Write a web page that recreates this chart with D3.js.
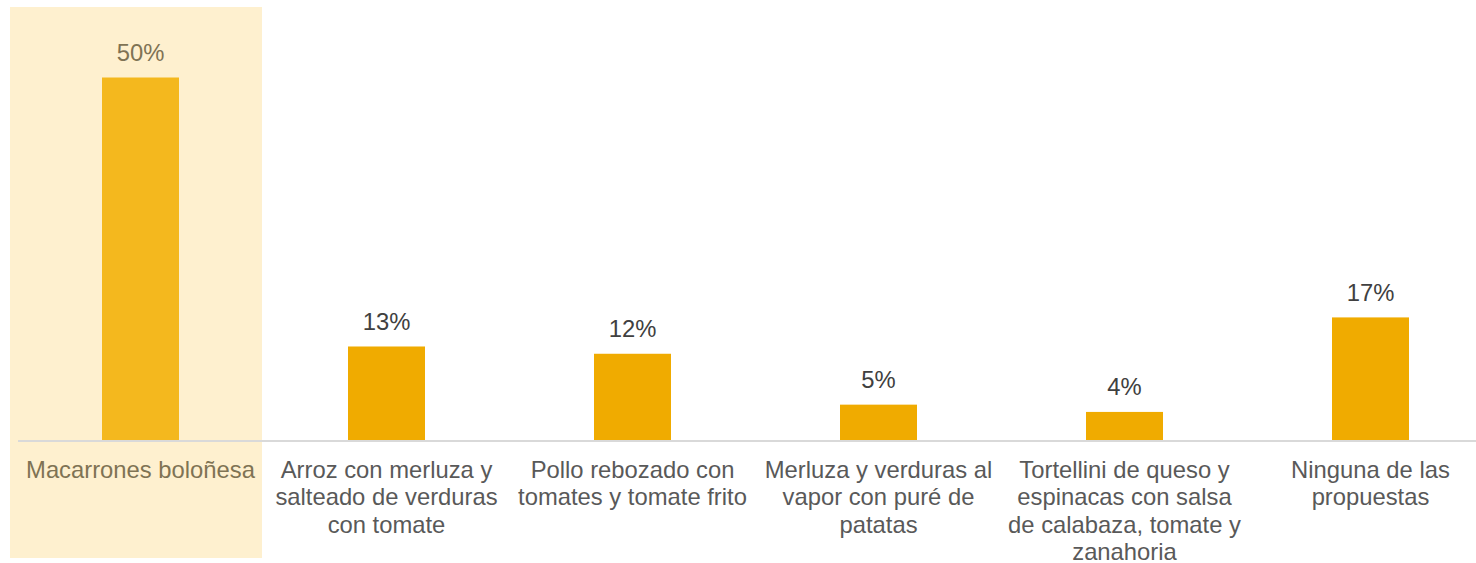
<!DOCTYPE html>
<html>
<head>
<meta charset="utf-8">
<script src="https://cdn.jsdelivr.net/npm/d3@7"></script>
<style>
  html, body { margin: 0; padding: 0; background: #ffffff; }
  svg { display: block; }
  text { font-family: "Liberation Sans", Arial, sans-serif; }
</style>
</head>
<body>
<svg id="chart" width="1476" height="563"></svg>
<script>
// Dish preferences (% of respondents)
const categories = [
  "Macarrones boloñesa",
  "Arroz con merluza y salteado de verduras con tomate",
  "Pollo rebozado con tomates y tomate frito",
  "Merluza y verduras al vapor con puré de patatas",
  "Tortellini de queso y espinacas con salsa de calabaza, tomate y zanahoria",
  "Ninguna de las propuestas"
];
const values = [50, 13, 12, 5, 4, 17];
const highlighted = ["Macarrones boloñesa"];

const width = 1476, height = 563;
const baseline = 441;
const svg = d3.select("#chart");

const x = d3.scaleBand()
  .domain(categories)
  .range([17.5, 1493.5])
  .paddingInner(0.687)
  .paddingOuter(0.3435);

const y = d3.scaleLinear()
  .domain([0, 50])
  .range([baseline, 77.5]);

const step = x.step();
const bandCenter = d => x(d) + x.bandwidth() / 2;

// Highlight panel behind the selected category
svg.append("g")
  .selectAll("rect")
  .data(highlighted)
  .join("rect")
  .attr("x", d => bandCenter(d) - step / 2 - 7.5)
  .attr("y", 7)
  .attr("width", step + 6)
  .attr("height", 551)
  .attr("fill", "#FEF0CF");

const data = categories.map((c, i) => ({ c, v: values[i], hi: highlighted.includes(c) }));

// Bars
svg.append("g")
  .selectAll("rect")
  .data(data)
  .join("rect")
  .attr("x", d => x(d.c))
  .attr("y", d => y(d.v))
  .attr("width", x.bandwidth())
  .attr("height", d => y(0) - y(d.v))
  .attr("fill", d => d.hi ? "#F4B81E" : "#F0AB00");

// Baseline axis
const axis = d3.axisBottom(x).tickSize(0).tickFormat("");
const axisG = svg.append("g")
  .attr("transform", `translate(0,${baseline})`)
  .call(axis);
axisG.select(".domain")
  .attr("d", `M18,0H${width}`)
  .attr("stroke", "#D9D9D9")
  .attr("stroke-width", 2);

// Value labels
svg.append("g")
  .selectAll("text")
  .data(data)
  .join("text")
  .attr("x", d => bandCenter(d.c))
  .attr("y", d => y(d.v) - 16.5)
  .attr("text-anchor", "middle")
  .attr("font-size", "23.8px")
  .attr("fill", d => d.hi ? "#7F7354" : "#404040")
  .text(d => d.v + "%");

// Category labels, wrapped to the band width
const maxW = 238;
const lineH = 27.3;
const labels = svg.append("g")
  .selectAll("text")
  .data(data)
  .join("text")
  .attr("text-anchor", "middle")
  .attr("font-size", "23.8px")
  .attr("fill", d => d.hi ? "#7F7354" : "#595959");

labels.each(function(d) {
  const t = d3.select(this);
  const cx = bandCenter(d.c);
  const words = d.c.split(" ");
  let line = [];
  let lineNo = 0;
  let tspan = t.append("tspan").attr("x", cx).attr("y", 478);
  for (const w of words) {
    line.push(w);
    tspan.text(line.join(" "));
    if (tspan.node().getComputedTextLength() > maxW && line.length > 1) {
      line.pop();
      tspan.text(line.join(" "));
      line = [w];
      lineNo++;
      tspan = t.append("tspan").attr("x", cx).attr("y", 478 + lineNo * lineH).text(w);
    }
  }
});
</script>
</body>
</html>
